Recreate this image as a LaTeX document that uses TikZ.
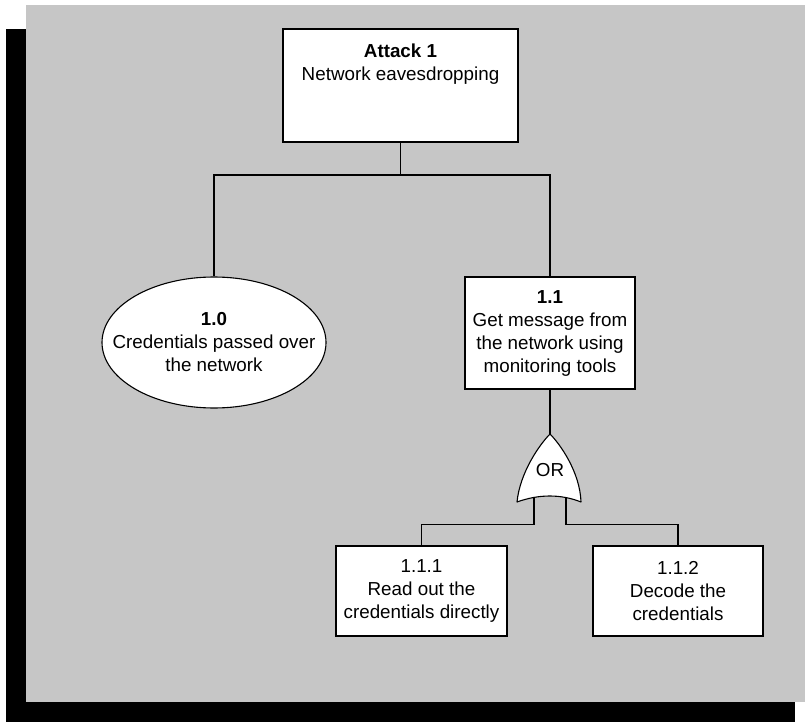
\documentclass[tikz,border=0pt]{standalone}
\usepackage{fontspec}
\setmainfont{Liberation Sans}
\usetikzlibrary{shapes.geometric}
\definecolor{bggray}{RGB}{198,198,198}
\begin{document}
\begin{tikzpicture}[x=1pt,y=-1pt,
  txt/.style={font=\fontsize{18.8}{23}\selectfont, align=center, inner sep=0pt},
  box/.style={draw=black, fill=white, line width=1.1pt, inner sep=0pt},
  wire/.style={draw=black, line width=1.1pt}]
\useasboundingbox (0,0) rectangle (805,722);
% shadow and panel
\fill[black] (6,29) rectangle (26,722);
\fill[black] (6,702) rectangle (795,722);
\fill[bggray] (26,5) rectangle (805,702);
% nodes
\node[box, minimum width=235, minimum height=113] (a1) at (400.5,85.5) {};
\node[txt] (a1t) at (400.5,64) {\textbf{Attack 1}\\Network eavesdropping};
\node[box, ellipse, minimum width=224, minimum height=131] (n10) at (214,342.5) {};
\node[txt] (n10t) at (214,342) {\textbf{1.0}\\Credentials passed over\\the network};
\node[box, txt, draw, minimum width=170, minimum height=112] (n11) at (550,333) {\textbf{1.1}\\Get message from\\the network using\\monitoring tools};
\node[box, txt, draw, minimum width=171, minimum height=90] (n111) at (421.5,591) {1.1.1\\Read out the\\credentials directly};
\node[box, txt, draw, minimum width=170, minimum height=90] (n112) at (678,591) {1.1.2\\Decode the\\credentials};
% connectors from top
\coordinate (bus1) at (400.5,175);
\draw[wire] (a1.south) -- (bus1) -| (n10.north);
\draw[wire] (bus1) -| (n11.north);
% OR gate
\coordinate (gT) at (550,434);
\coordinate (gBL) at (517,502);
\coordinate (gBR) at (581,502);
\coordinate (gL) at (534,497);
\coordinate (gR) at (566,497);
\draw[wire] (n11.south) -- (gT);
\draw[wire, fill=white, line join=round]
  (gT) .. controls (560,444) and (580,472) .. (gBR)
  .. controls (561,494) and (539,494) .. (gBL)
  .. controls (520,472) and (540,444) .. (gT) -- cycle;
\node[txt] (ortext) at (550,470) {OR};
\coordinate (busL) at (534,524.5);
\coordinate (busR) at (566,524.5);
\draw[wire] (gL) -- (busL) -| (n111.north);
\draw[wire] (gR) -- (busR) -| (n112.north);
\end{tikzpicture}
\end{document}
